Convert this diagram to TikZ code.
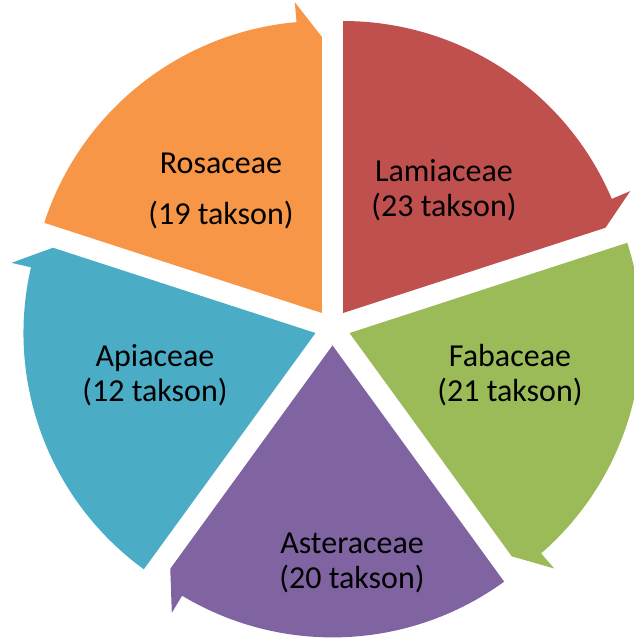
\documentclass[tikz,border=0pt]{standalone}
\usepackage{fontspec}
\setmainfont{Carlito}
\definecolor{cRed}{HTML}{C0504D}
\definecolor{cGreen}{HTML}{9BBB59}
\definecolor{cPurple}{HTML}{8064A2}
\definecolor{cBlue}{HTML}{4BACC6}
\definecolor{cOrange}{HTML}{F79646}
\begin{document}
\begin{tikzpicture}[x=1pt,y=1pt,
  lbl/.style={font=\fontsize{32}{35}\selectfont, align=center, inner sep=0pt, text=black}]
\useasboundingbox (0,0) rectangle (633,-642);
\def\R{292}
\def\D{17.9}
\coordinate (c) at (332.5,-327.5);
\foreach \b/\col in {54/cRed, -18/cGreen, -90/cPurple, -162/cBlue, 126/cOrange}{
  \begin{scope}[shift={(c)}, shift={(\b:\D)}]
    \fill[\col] (0,0) -- (\b+36:\R) arc[start angle=\b+36, end angle=\b-31, radius=\R]
      -- (\b-31:\R+20) -- (\b-36:\R-16) -- cycle;
  \end{scope}
}
\node[lbl] (lam) at (444,-190) {Lamiaceae\\(23 takson)};
\node[lbl] (ros) at (221,-191) {Rosaceae\\[16pt](19 takson)};
\node[lbl] (fab) at (510,-375) {Fabaceae\\(21 takson)};
\node[lbl] (ast) at (352,-563) {Asteraceae\\(20 takson)};
\node[lbl] (api) at (155,-375) {Apiaceae\\(12 takson)};
\end{tikzpicture}
\end{document}
